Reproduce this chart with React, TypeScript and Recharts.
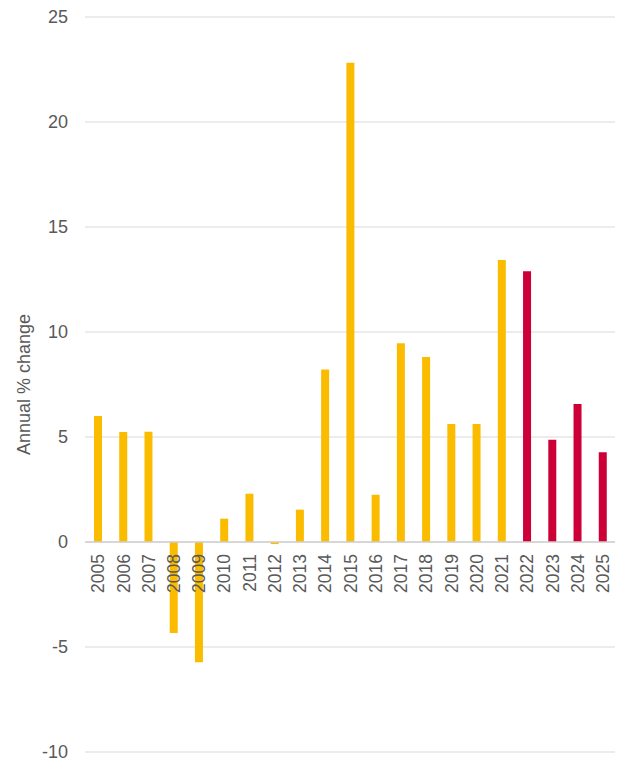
import React from "react";
import { BarChart, Bar, XAxis, YAxis, CartesianGrid, Cell, LabelList, ReferenceLine } from "recharts";

const years = [
  "2005", "2006", "2007", "2008", "2009", "2010", "2011", "2012", "2013", "2014", "2015",
  "2016", "2017", "2018", "2019", "2020", "2021", "2022", "2023", "2024", "2025",
];
const changes = [
  6.0, 5.24, 5.25, -4.33, -5.73, 1.11, 2.3, -0.1, 1.54, 8.22, 22.82,
  2.25, 9.47, 8.81, 5.62, 5.62, 13.43, 12.89, 4.87, 6.57, 4.27,
];
const forecastYears = ["2022", "2023", "2024", "2025"];
const yTicks = [-10, -5, 0, 5, 10, 15, 20, 25];

const ACTUAL = "#FBBC00";
const FORECAST = "#CC0036";
const TEXT = "#595959";
const FONT = "'Liberation Sans', Arial, sans-serif";

const data = years.map((year, i) => ({ year, value: changes[i] }));

// year labels sit just under the zero line, rotated to read bottom-up
const YearLabel = (props: any) => {
  const vb = props.viewBox ?? props;
  const cx = vb.x + vb.width / 2;
  const zeroY = vb.y + vb.height;
  const top = zeroY + 12;
  return (
    <text
      x={cx}
      y={top}
      transform={`rotate(-90, ${cx}, ${top})`}
      textAnchor="end"
      dy="0.36em"
      fontSize={17.5}
      fill={TEXT}
      fontFamily={FONT}
    >
      {props.value}
    </text>
  );
};

const AxisTitle = ({ viewBox }: any) => {
  const x = viewBox.x + 23.5;
  const y = viewBox.y + viewBox.height / 2;
  return (
    <text
      x={x}
      y={y}
      transform={`rotate(-90, ${x}, ${y})`}
      textAnchor="middle"
      dominantBaseline="central"
      fontSize={18}
      fill={TEXT}
      fontFamily={FONT}
    >
      Annual % change
    </text>
  );
};

export default function App() {
  return (
    <div style={{ position: "absolute", left: 0, top: 0, background: "#fff" }}>
      <BarChart width={622} height={763} data={data} margin={{ top: 17, right: 7, left: 0, bottom: 11 }}>
        <CartesianGrid vertical={false} stroke="#D9D9D9" strokeWidth={1} />
        <XAxis dataKey="year" hide />
        <YAxis
          domain={[-10, 25]}
          ticks={yTicks}
          width={85}
          axisLine={false}
          tickLine={false}
          tickSize={0}
          tickMargin={17}
          tick={{ fontSize: 18, fill: TEXT, fontFamily: FONT }}
          label={{ content: AxisTitle }}
        />
        <ReferenceLine y={0} stroke="#D0D0D0" strokeWidth={1.5} />
        <Bar dataKey="value" barSize={8} isAnimationActive={false}>
          {data.map((d) => (
            <Cell key={d.year} fill={forecastYears.includes(d.year) ? FORECAST : ACTUAL} />
          ))}
          <LabelList dataKey="year" content={YearLabel} />
        </Bar>
      </BarChart>
    </div>
  );
}
